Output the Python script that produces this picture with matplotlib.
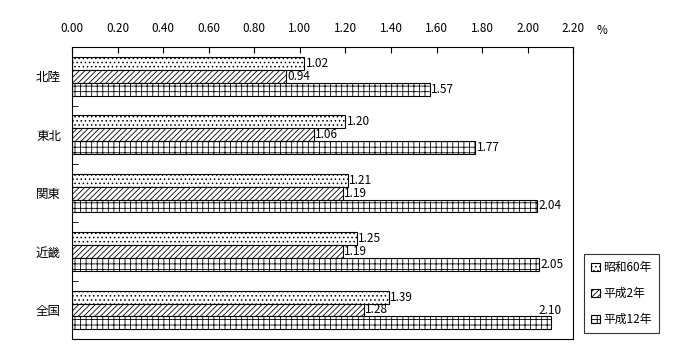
import numpy as np
import matplotlib.pyplot as plt
import matplotlib as mpl

plt.rcParams['font.family'] = ['Noto Sans CJK JP', 'DejaVu Sans']
mpl.rcParams['hatch.linewidth'] = 0.6

# data
regions = ["北陸", "東北", "関東", "近畿", "全国"]
series = ["昭和60年", "平成2年", "平成12年"]
s60 = [1.02, 1.20, 1.21, 1.25, 1.39]
h2 = [0.94, 1.06, 1.19, 1.19, 1.28]
h12 = [1.57, 1.77, 2.04, 2.05, 2.10]
xticks = [0.0, 0.2, 0.4, 0.6, 0.8, 1.0, 1.2, 1.4, 1.6, 1.8, 2.0, 2.2]

hatches = ["....", "//////", "+++"]
values = [s60, h2, h12]

fig = plt.figure(figsize=(7, 3.6), dpi=100)
ax = fig.add_axes([0.103, 0.058, 0.716, 0.811])

n = len(regions)
h = 0.22
centers = np.arange(n)
bars = []
for k, (vals, hat, lab) in enumerate(zip(values, hatches, series)):
    y = centers + (k - 1) * h
    b = ax.barh(y, vals, height=h, color="white", edgecolor="black",
                hatch=hat, linewidth=0.8, label=lab)
    bars.append(b)
    for i, v in enumerate(vals):
        # the longest bar gets its label above, near the right edge
        if v >= 2.08:
            ax.text(v + 0.05, y[i] - h * 0.45, f"{v:.2f}", ha="right", va="bottom", fontsize=8.5)
        else:
            ax.text(v + 0.005, y[i], f"{v:.2f}", ha="left", va="center", fontsize=8.5)

ax.set_ylim(n - 0.5, -0.5)
ax.set_xlim(0, 2.2)
ax.set_xticks(xticks)
ax.set_xticklabels([f"{t:.2f}" for t in xticks], fontsize=8.5)
ax.xaxis.tick_top()
ax.tick_params(axis="x", direction="in", length=4, pad=9, top=True)
ax.set_yticks(centers)
ax.set_yticklabels(regions, fontsize=9)
ax.set_yticks(np.arange(n - 1) + 0.5, minor=True)
ax.tick_params(axis="y", which="major", length=0, pad=8)
ax.tick_params(axis="y", which="minor", direction="in", length=4)
fig.text(0.86, 0.915, "%", fontsize=8.5, ha="center", va="center")

leg = fig.legend(handles=bars, labels=series, loc="lower right",
                 bbox_to_anchor=(0.941, 0.075), borderaxespad=0,
                 fontsize=8.5, frameon=True,
                 fancybox=False, edgecolor="black", handlelength=0.7,
                 handleheight=0.7, handletextpad=0.3, labelspacing=1.1,
                 borderpad=0.6)
leg.get_frame().set_linewidth(0.8)

fig.savefig("out.png")
